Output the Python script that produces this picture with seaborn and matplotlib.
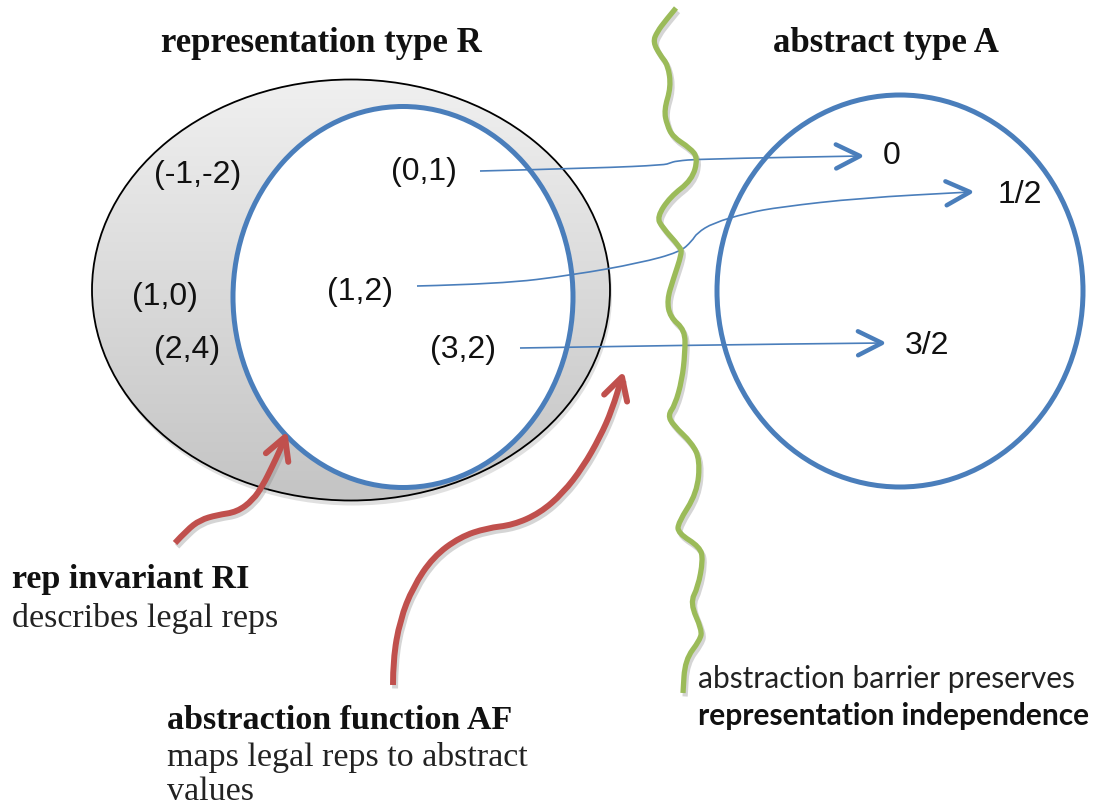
import numpy as np
import matplotlib
matplotlib.use("Agg")
import matplotlib.pyplot as plt
import matplotlib.patheffects as pe
from matplotlib.patches import Ellipse, PathPatch
from matplotlib.path import Path
from matplotlib.colors import LinearSegmentedColormap
import seaborn as sns

sns.set_theme(style="white")

# --- data (positions in pixels of the 1104x808 slide, y grows downward) ---
rep_labels = ["(-1,-2)", "(0,1)", "(1,0)", "(1,2)", "(2,4)", "(3,2)"]
rep_x = [198, 424, 165, 360, 187, 463]
rep_y = [175, 172, 297, 292, 350, 350]

abs_labels = ["0", "1/2", "3/2"]
abs_x = [892, 1020, 927]
abs_y = [156, 195, 346]

# abstraction function arrows (0,1)->0, (1,2)->1/2, (3,2)->3/2
map01_x = [480, 600, 664, 670, 676, 700, 860]
map01_y = [171, 168, 165, 163, 161, 159, 156]
map12_x = [417, 500, 573, 640, 680, 692, 697, 713, 747, 780, 860, 970]
map12_y = [286, 284, 275, 263, 252, 241, 233, 223, 213, 207, 198, 192]
map32_x = [520, 700, 882]
map32_y = [348, 345, 343]

# abstraction barrier (green wiggle)
barrier_x = [676, 666, 657, 653, 660, 668, 671, 664, 667, 673, 690, 698, 692, 670,
             657, 662, 680, 682, 673, 667, 670, 685, 685, 682, 675, 668, 673, 692,
             700, 697, 678, 678, 700, 703, 698, 690, 702, 700, 685, 683]
barrier_y = [8, 20, 32, 42, 55, 65, 87, 110, 125, 137, 148, 158, 180, 197,
             217, 227, 247, 253, 280, 300, 317, 330, 353, 380, 405, 415, 425, 443,
             460, 493, 523, 533, 547, 560, 587, 603, 630, 640, 660, 693]

# red pointer arrows
ri_x = [175, 187, 200, 217, 237, 253, 263, 272, 280, 285]
ri_y = [543, 530, 520, 515, 512, 500, 485, 467, 450, 437]
af_x = [393, 393, 400, 413, 433, 460, 487, 513, 540, 563, 583, 600, 612, 622]
af_y = [685, 660, 620, 587, 557, 537, 528, 525, 513, 493, 467, 437, 410, 377]

# sets: (center x, center y, width, height)
rep_set = (351, 290, 518, 421)
legal_set = (403, 297, 340, 381)
abs_set = (900, 291, 366, 392)

BLUE = "#4a7ebb"
GREEN = "#9bbb59"
RED = "#c0504d"
INK = "#111111"

fig = plt.figure(figsize=(11.04, 8.08), dpi=100)
ax = fig.add_axes([0, 0, 1, 1])

# gray representation space with gradient + shadow
cx, cy, w, h = rep_set
ax.add_patch(Ellipse((cx + 2, cy + 5), w, h, fc="#9a9a9a", ec="none", alpha=0.3, zorder=0.5))
outline = Ellipse((cx, cy), w, h, fc="none", ec="black", lw=1.3, zorder=1.5)
ax.add_patch(outline)
grad = np.linspace(0, 1, 256).reshape(-1, 1)
cmap = LinearSegmentedColormap.from_list("ring", ["#f0f0f0", "#c4c4c4"])
im = ax.imshow(grad, extent=(cx - w / 2, cx + w / 2, cy + h / 2, cy - h / 2),
               cmap=cmap, aspect="auto", zorder=1, interpolation="bilinear")
im.set_clip_path(outline)

# legal reps (RI) and abstract space
cx, cy, w, h = legal_set
ax.add_patch(Ellipse((cx, cy), w, h, fc="white", ec=BLUE, lw=3.6, zorder=2))
cx, cy, w, h = abs_set
ax.add_patch(Ellipse((cx, cy), w, h, fc="none", ec=BLUE, lw=3.6, zorder=2))

shadow = [pe.Stroke(offset=(1.5, -2.5), foreground="#888888", alpha=0.35), pe.Normal()]


def smooth_line(xs, ys, color, lw, z, effects=None):
    # quadratic bezier through the midpoints, the read points act as control points
    pts = np.column_stack([xs, ys]).astype(float)
    verts = [pts[0]]
    codes = [Path.MOVETO]
    for i in range(1, len(pts) - 1):
        mid = (pts[i] + pts[i + 1]) / 2
        verts += [pts[i], mid]
        codes += [Path.CURVE3, Path.CURVE3]
    verts.append(pts[-1])
    codes.append(Path.LINETO)
    patch = PathPatch(Path(verts, codes), fc="none", ec=color, lw=lw, zorder=z,
                      capstyle="butt", joinstyle="round")
    if effects:
        patch.set_path_effects(effects)
    ax.add_patch(patch)


def chevron(xs, ys, length, half, color, lw, z):
    d = np.array([xs[-1] - xs[-2], ys[-1] - ys[-2]], float)
    d /= np.hypot(*d)
    n = np.array([-d[1], d[0]])
    tip = np.array([xs[-1], ys[-1]], float)
    a = tip - length * d + half * n
    b = tip - length * d - half * n
    sns.lineplot(x=[a[0], tip[0], b[0]], y=[a[1], tip[1], b[1]], sort=False, estimator=None,
                 color=color, lw=lw, solid_capstyle="round", solid_joinstyle="round", zorder=z, ax=ax)


for xs, ys in [(map01_x, map01_y), (map12_x, map12_y), (map32_x, map32_y)]:
    smooth_line(xs, ys, BLUE, 1.2, 4)
    chevron(xs, ys, 24, 12, BLUE, 3.2, 4)

smooth_line(barrier_x, barrier_y, GREEN, 3.8, 5, shadow)

for xs, ys in [(ri_x, ri_y), (af_x, af_y)]:
    smooth_line(xs, ys, RED, 4.3, 6, shadow)
    chevron(xs, ys, 22, 12, RED, 4.3, 6)

# text
for lab, x, y in zip(rep_labels, rep_x, rep_y):
    ax.text(x, y, lab, ha="center", va="center", fontsize=23, family="Liberation Sans", color=INK, zorder=3)
for lab, x, y in zip(abs_labels, abs_x, abs_y):
    ax.text(x, y, lab, ha="center", va="center", fontsize=23, family="Liberation Sans", color=INK, zorder=3)

serif = "Liberation Serif"
ax.text(321, 52, "representation type R", ha="center", va="baseline", fontsize=25,
        family=serif, weight="bold", color=INK)
ax.text(886, 52, "abstract type A", ha="center", va="baseline", fontsize=25,
        family=serif, weight="bold", color=INK)
ax.text(12, 588, "rep invariant RI", va="baseline", fontsize=24.5, family=serif, weight="bold", color=INK)
ax.text(12, 627, "describes legal reps", va="baseline", fontsize=24.5, family=serif, color="#222222")
ax.text(167, 729, "abstraction function AF", va="baseline", fontsize=24.5, family=serif, weight="bold", color=INK)
ax.text(167, 766, "maps legal reps to abstract", va="baseline", fontsize=24.5, family=serif, color="#222222")
ax.text(167, 800, "values", va="baseline", fontsize=24.5, family=serif, color="#222222")
ax.text(698, 688, "abstraction barrier preserves", va="baseline", fontsize=21.5, family="Lato", color="#222222")
ax.text(698, 725, "representation independence", va="baseline", fontsize=21.5, family="Lato",
        weight="bold", color=INK)

ax.set_xlim(0, 1104)
ax.set_ylim(808, 0)
ax.axis("off")

fig.savefig("out.png", dpi=100, facecolor="white")
